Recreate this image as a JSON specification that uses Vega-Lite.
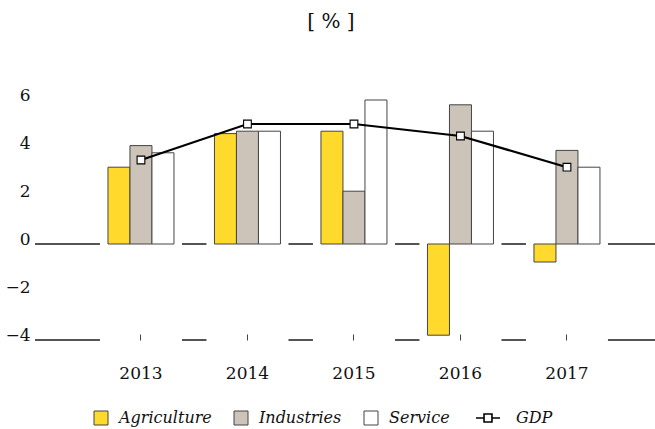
{
  "$schema": "https://vega.github.io/schema/vega-lite/v6.json",
  "width": 620,
  "height": 240,
  "autosize": "none",
  "padding": {"left": 35, "top": 100, "right": 0, "bottom": 89},
  "title": {"text": "[ % ]", "font": "DejaVu Serif", "fontSize": 20, "fontWeight": "normal", "color": "#111", "offset": 54, "dx": -14},
  "config": {"view": {"stroke": null}, "font": "DejaVu Serif"},
  "data": {
    "values": [
      {"year": "2013", "series": "Agriculture", "value": 3.2},
      {"year": "2013", "series": "Industries", "value": 4.1},
      {"year": "2013", "series": "Service", "value": 3.8},
      {"year": "2013", "series": "GDP", "value": 3.5},
      {"year": "2014", "series": "Agriculture", "value": 4.6},
      {"year": "2014", "series": "Industries", "value": 4.7},
      {"year": "2014", "series": "Service", "value": 4.7},
      {"year": "2014", "series": "GDP", "value": 5.0},
      {"year": "2015", "series": "Agriculture", "value": 4.7},
      {"year": "2015", "series": "Industries", "value": 2.2},
      {"year": "2015", "series": "Service", "value": 6.0},
      {"year": "2015", "series": "GDP", "value": 5.0},
      {"year": "2016", "series": "Agriculture", "value": -3.8},
      {"year": "2016", "series": "Industries", "value": 5.8},
      {"year": "2016", "series": "Service", "value": 4.7},
      {"year": "2016", "series": "GDP", "value": 4.5},
      {"year": "2017", "series": "Agriculture", "value": -0.75},
      {"year": "2017", "series": "Industries", "value": 3.9},
      {"year": "2017", "series": "Service", "value": 3.2},
      {"year": "2017", "series": "GDP", "value": 3.2}
    ]
  },
  "encoding": {
    "x": {
      "field": "year", "type": "nominal",
      "scale": {"paddingInner": 0.23, "paddingOuter": 0.5258, "align": 0.58},
      "axis": {"title": null, "domain": false, "labelAngle": 0, "labelFont": "DejaVu Serif", "labelFontSize": 17, "labelColor": "#111", "tickSize": -6, "tickColor": "#444", "tickWidth": 1, "labelPadding": 31, "zindex": 1}
    }
  },
  "layer": [
    {
      "mark": {"type": "rule", "color": "#555", "strokeWidth": 1.2},
      "encoding": {
        "x": null,
        "y": {"datum": 0, "type": "quantitative",
          "scale": {"domain": [-4, 6], "nice": false, "zero": false},
          "axis": {"title": null, "domain": false, "ticks": false, "grid": false, "values": [-4, -2, 0, 2, 4, 6], "labelFont": "DejaVu Serif", "labelFontSize": 17, "labelBaseline": "alphabetic", "labelPadding": 5, "labelColor": "#111"}
        }
      }
    },
    {
      "mark": {"type": "rule", "color": "#555", "strokeWidth": 1.2},
      "encoding": {"x": null, "y": {"datum": -4, "type": "quantitative"}}
    },
    {
      "transform": [{"filter": "datum.series === 'GDP'"}],
      "mark": {"type": "bar", "color": "white"},
      "encoding": {
        "y": {"datum": 6.5, "type": "quantitative"},
        "y2": {"datum": -4.5}
      }
    },
    {
      "transform": [{"filter": "datum.series !== 'GDP'"}],
      "mark": {"type": "bar", "stroke": "#444", "strokeWidth": 1},
      "encoding": {
        "xOffset": {"field": "series", "type": "nominal", "scale": {"domain": ["Agriculture", "Industries", "Service"], "paddingInner": 0, "paddingOuter": 0.364}},
        "y": {"field": "value", "type": "quantitative"},
        "fill": {
          "field": "series", "type": "nominal",
          "scale": {"domain": ["Agriculture", "Industries", "Service"], "range": ["#FFD92C", "#CCC3B9", "#FFFFFF"]},
          "legend": {
            "orient": "none", "legendX": 58, "legendY": 310, "direction": "horizontal", "columns": 3, "title": null,
            "symbolSize": 196, "symbolStrokeColor": "#444", "symbolStrokeWidth": 1, "symbolOpacity": 1,
            "labelFontSize": 16, "labelFontStyle": "italic", "labelFont": "DejaVu Serif", "labelOffset": 10, "columnPadding": 20, "labelColor": "#111"
          }
        }
      }
    },
    {
      "transform": [{"filter": "datum.series === 'GDP'"}],
      "mark": {"type": "line", "strokeWidth": 2.2},
      "encoding": {
        "y": {"field": "value", "type": "quantitative"},
        "stroke": {
          "field": "series", "type": "nominal",
          "scale": {"domain": ["GDP"], "range": ["#000000"]},
          "legend": {
            "orient": "none", "legendX": 440, "legendY": 305, "title": null,
            "symbolType": "M-1,0L-0.33,0M0.33,0L1,0M-0.33,-0.33L0.33,-0.33L0.33,0.33L-0.33,0.33Z",
            "symbolSize": 576, "symbolStrokeWidth": 1.6, "symbolFillColor": "#FFFFFF", "symbolOpacity": 1,
            "labelFontSize": 16, "labelFontStyle": "italic", "labelFont": "DejaVu Serif", "labelOffset": 15, "labelColor": "#111"
          }
        }
      }
    },
    {
      "transform": [{"filter": "datum.series === 'GDP'"}],
      "mark": {"type": "point", "shape": "square", "filled": true, "size": 60, "fill": "#FFFFFF", "stroke": "#000", "strokeWidth": 1.1, "opacity": 1},
      "encoding": {
        "y": {"field": "value", "type": "quantitative"}
      }
    }
  ]
}
